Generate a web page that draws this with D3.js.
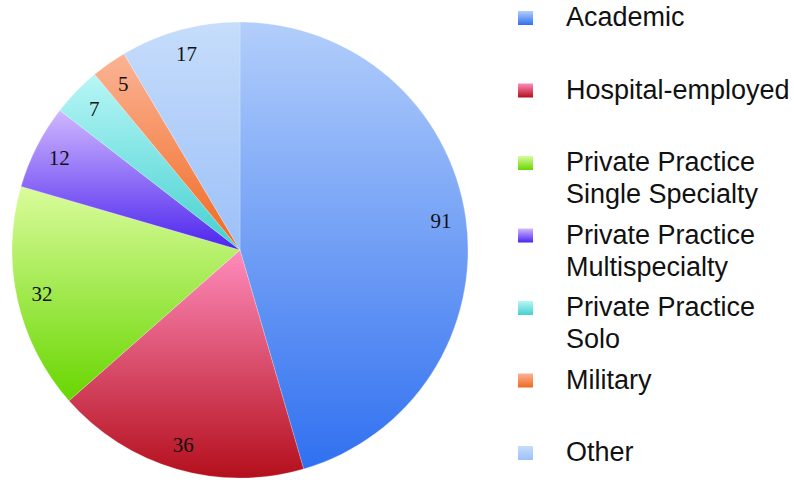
<!DOCTYPE html>
<html>
<head>
<meta charset="utf-8">
<script src="https://cdn.jsdelivr.net/npm/d3@7"></script>
<style>
  body { margin: 0; background: #fff; }
  svg { display: block; }
</style>
</head>
<body>
<svg width="794" height="504"></svg>
<script>
// data
const categories = ["Academic", "Hospital-employed", "Private Practice Single Specialty",
  "Private Practice Multispecialty", "Private Practice Solo", "Military", "Other"];
const values = [91, 36, 32, 12, 7, 5, 17];
const legendLines = [["Academic"], ["Hospital-employed"], ["Private Practice", "Single Specialty"],
  ["Private Practice", "Multispecialty"], ["Private Practice", "Solo"], ["Military"], ["Other"]];
const topColors = ["#b2cefb", "#ff8cbc", "#dafc9c", "#d0b8ff", "#b8f6f6", "#fbb496", "#c6ddfb"];
const bottomColors = ["#3070f0", "#b40f1c", "#68d600", "#4c24ee", "#44d0d0", "#f06820", "#9cc0f8"];

const svg = d3.select("svg");
const defs = svg.append("defs");

categories.forEach((c, i) => {
    const g = defs.append("linearGradient")
        .attr("id", "grad" + i)
        .attr("x1", 0).attr("y1", 0)
        .attr("x2", 0).attr("y2", 1);
    g.append("stop").attr("offset", "0%").attr("stop-color", topColors[i]);
    g.append("stop").attr("offset", "100%").attr("stop-color", bottomColors[i]);
});

const cx = 240, cy = 250, radius = 228;

const pie = d3.pie().sort(null).value(d => d);
const arcs = pie(values);
const arc = d3.arc().innerRadius(0).outerRadius(radius);
const labelArc = d3.arc().innerRadius(203).outerRadius(203);

const chart = svg.append("g").attr("transform", `translate(${cx},${cy})`);

chart.selectAll("path.slice")
    .data(arcs)
    .enter()
    .append("path")
    .attr("class", "slice")
    .attr("d", arc)
    .attr("fill", (d, i) => `url(#grad${i})`)
    .attr("stroke", "rgba(255,255,255,0.35)")
    .attr("stroke-width", 0.6);

chart.selectAll("text.lbl")
    .data(arcs)
    .enter()
    .append("text")
    .attr("class", "lbl")
    .attr("transform", d => `translate(${labelArc.centroid(d)})`)
    .attr("text-anchor", "middle")
    .attr("dominant-baseline", "central")
    .style("font-family", "'Liberation Serif', 'DejaVu Serif', serif")
    .style("font-size", "21px")
    .style("fill", "#111")
    .text(d => d.data);

// legend
const legendY = d3.scalePoint().domain(d3.range(categories.length)).range([26, 461]);

const legend = svg.selectAll("g.leg")
    .data(categories)
    .enter()
    .append("g")
    .attr("class", "leg")
    .attr("transform", (d, i) => `translate(518,${legendY(i)})`);

legend.append("rect")
    .attr("x", 0)
    .attr("y", -15)
    .attr("width", 15)
    .attr("height", 14)
    .attr("fill", (d, i) => `url(#grad${i})`);

legend.append("text")
    .attr("x", 48)
    .attr("y", 0)
    .style("font-family", "'Liberation Sans', Arial, sans-serif")
    .style("font-size", "27px")
    .style("fill", "#111")
    .each(function(d, i) {
        const t = d3.select(this);
        legendLines[i].forEach((line, j) => {
            t.append("tspan")
                .attr("x", 48)
                .attr("dy", j === 0 ? 0 : 32)
                .text(line);
        });
    });
</script>
</body>
</html>
